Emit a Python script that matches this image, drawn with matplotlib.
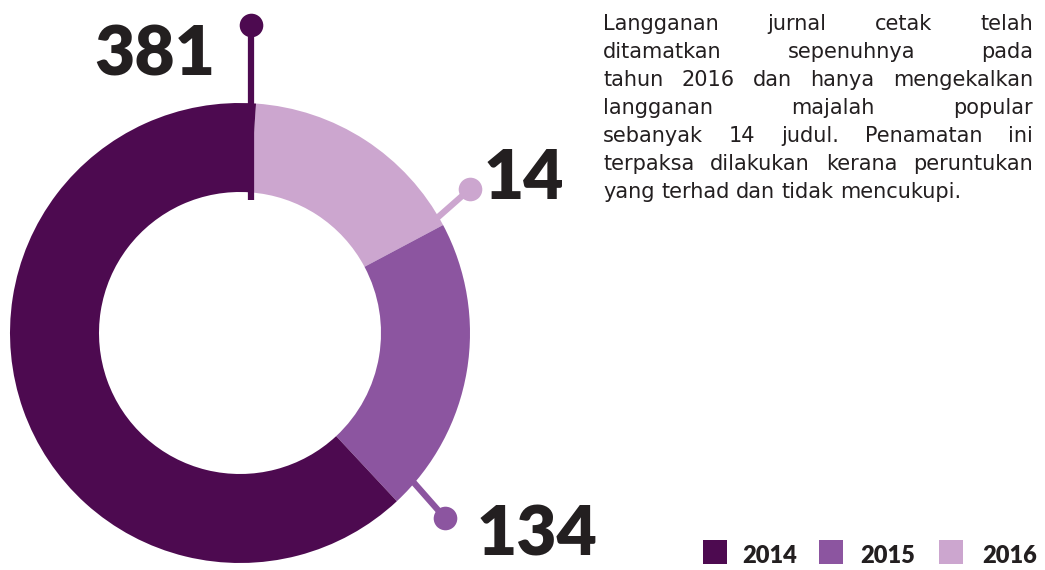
import matplotlib
matplotlib.use("Agg")
import matplotlib.pyplot as plt
from matplotlib.patches import Rectangle

# data
years = ["2014", "2015", "2016"]
counts = [381, 134, 14]
# share of the ring each year takes in the picture (degrees, not proportional to counts)
arc_deg = [227, 75, 58]
colors = ["#4D0A50", "#8C55A0", "#CCA6CF"]

para_lines = [
    "Langganan jurnal cetak telah",
    "ditamatkan sepenuhnya pada",
    "tahun 2016 dan hanya mengekalkan",
    "langganan majalah popular",
    "sebanyak 14 judul. Penamatan ini",
    "terpaksa dilakukan kerana peruntukan",
    "yang terhad dan tidak mencukupi.",
]

W, H = 1045, 570
txt_col = "#231F20"

big_font = "Lato"
big_size = 50
para_font = "DejaVu Sans"

fig = plt.figure(figsize=(W / 100, H / 100), dpi=100)
ax = fig.add_axes([0, 0, 1, 1])

cx, cy, r_out, ring = 240, H - 333, 230, 89

# pie goes clockwise from just right of 12 o'clock: 2016, 2015, 2014
ax.pie(arc_deg[::-1], colors=colors[::-1], radius=r_out, center=(cx, cy),
       startangle=86, counterclock=False,
       wedgeprops=dict(width=ring, linewidth=0))

ax.set_xlim(0, W)
ax.set_ylim(0, H)
ax.set_aspect("equal")
ax.axis("off")

# leader lines with dots: (start point, dot point)
leaders = {
    "2014": ((251, 200), (251, 25)),
    "2015": ((408, 476), (445, 518)),
    "2016": ((428, 226), (470, 189)),
}
labels_pos = {
    "2014": (215, 75, "right"),
    "2015": (477, 556, "left"),
    "2016": (484, 199, "left"),
}
for yr, c, n in zip(years, colors, counts):
    (x0, y0), (x1, y1) = leaders[yr]
    ax.plot([x0, x1], [H - y0, H - y1], color=c, lw=4.5, solid_capstyle="butt", zorder=3)
    ax.plot([x1], [H - y1], "o", color=c, ms=17, mec="none", zorder=4)
    lx, ly, ha = labels_pos[yr]
    ax.text(lx, H - ly, str(n), ha=ha, va="baseline", fontsize=big_size,
            fontweight="heavy", family=big_font, color=txt_col)

# justified paragraph
renderer = fig.canvas.get_renderer()
left, right = 603, 1033


def width_of(s, fs):
    t = ax.text(0, 0, s, fontsize=fs, family=para_font)
    w = t.get_window_extent(renderer).width
    t.remove()
    return w


fs = 15
while max(width_of(l, fs) for l in para_lines) > right - left and fs > 9:
    fs -= 0.25

for i, line in enumerate(para_lines):
    base = H - (30 + 28 * i)
    words = line.split()
    widths = [width_of(w, fs) for w in words]
    if i < len(para_lines) - 1:
        gap = (right - left - sum(widths)) / (len(words) - 1)
    else:
        gap = width_of("a a", fs) - width_of("aa", fs)
    x = left
    for w, wd in zip(words, widths):
        ax.text(x, base, w, fontsize=fs, family=para_font, color=txt_col,
                ha="left", va="baseline")
        x += wd + gap

# legend
sq_x = [703, 819, 939]
tx_x = [742, 860, 982]
for yr, c, sx, tx in zip(years, colors, sq_x, tx_x):
    ax.add_patch(Rectangle((sx, H - 564), 24, 24, color=c, lw=0))
    ax.text(tx, H - 563, yr, fontsize=17, fontweight="heavy", family="Lato",
            color=txt_col, ha="left", va="baseline")

fig.savefig("out.png", dpi=100)
